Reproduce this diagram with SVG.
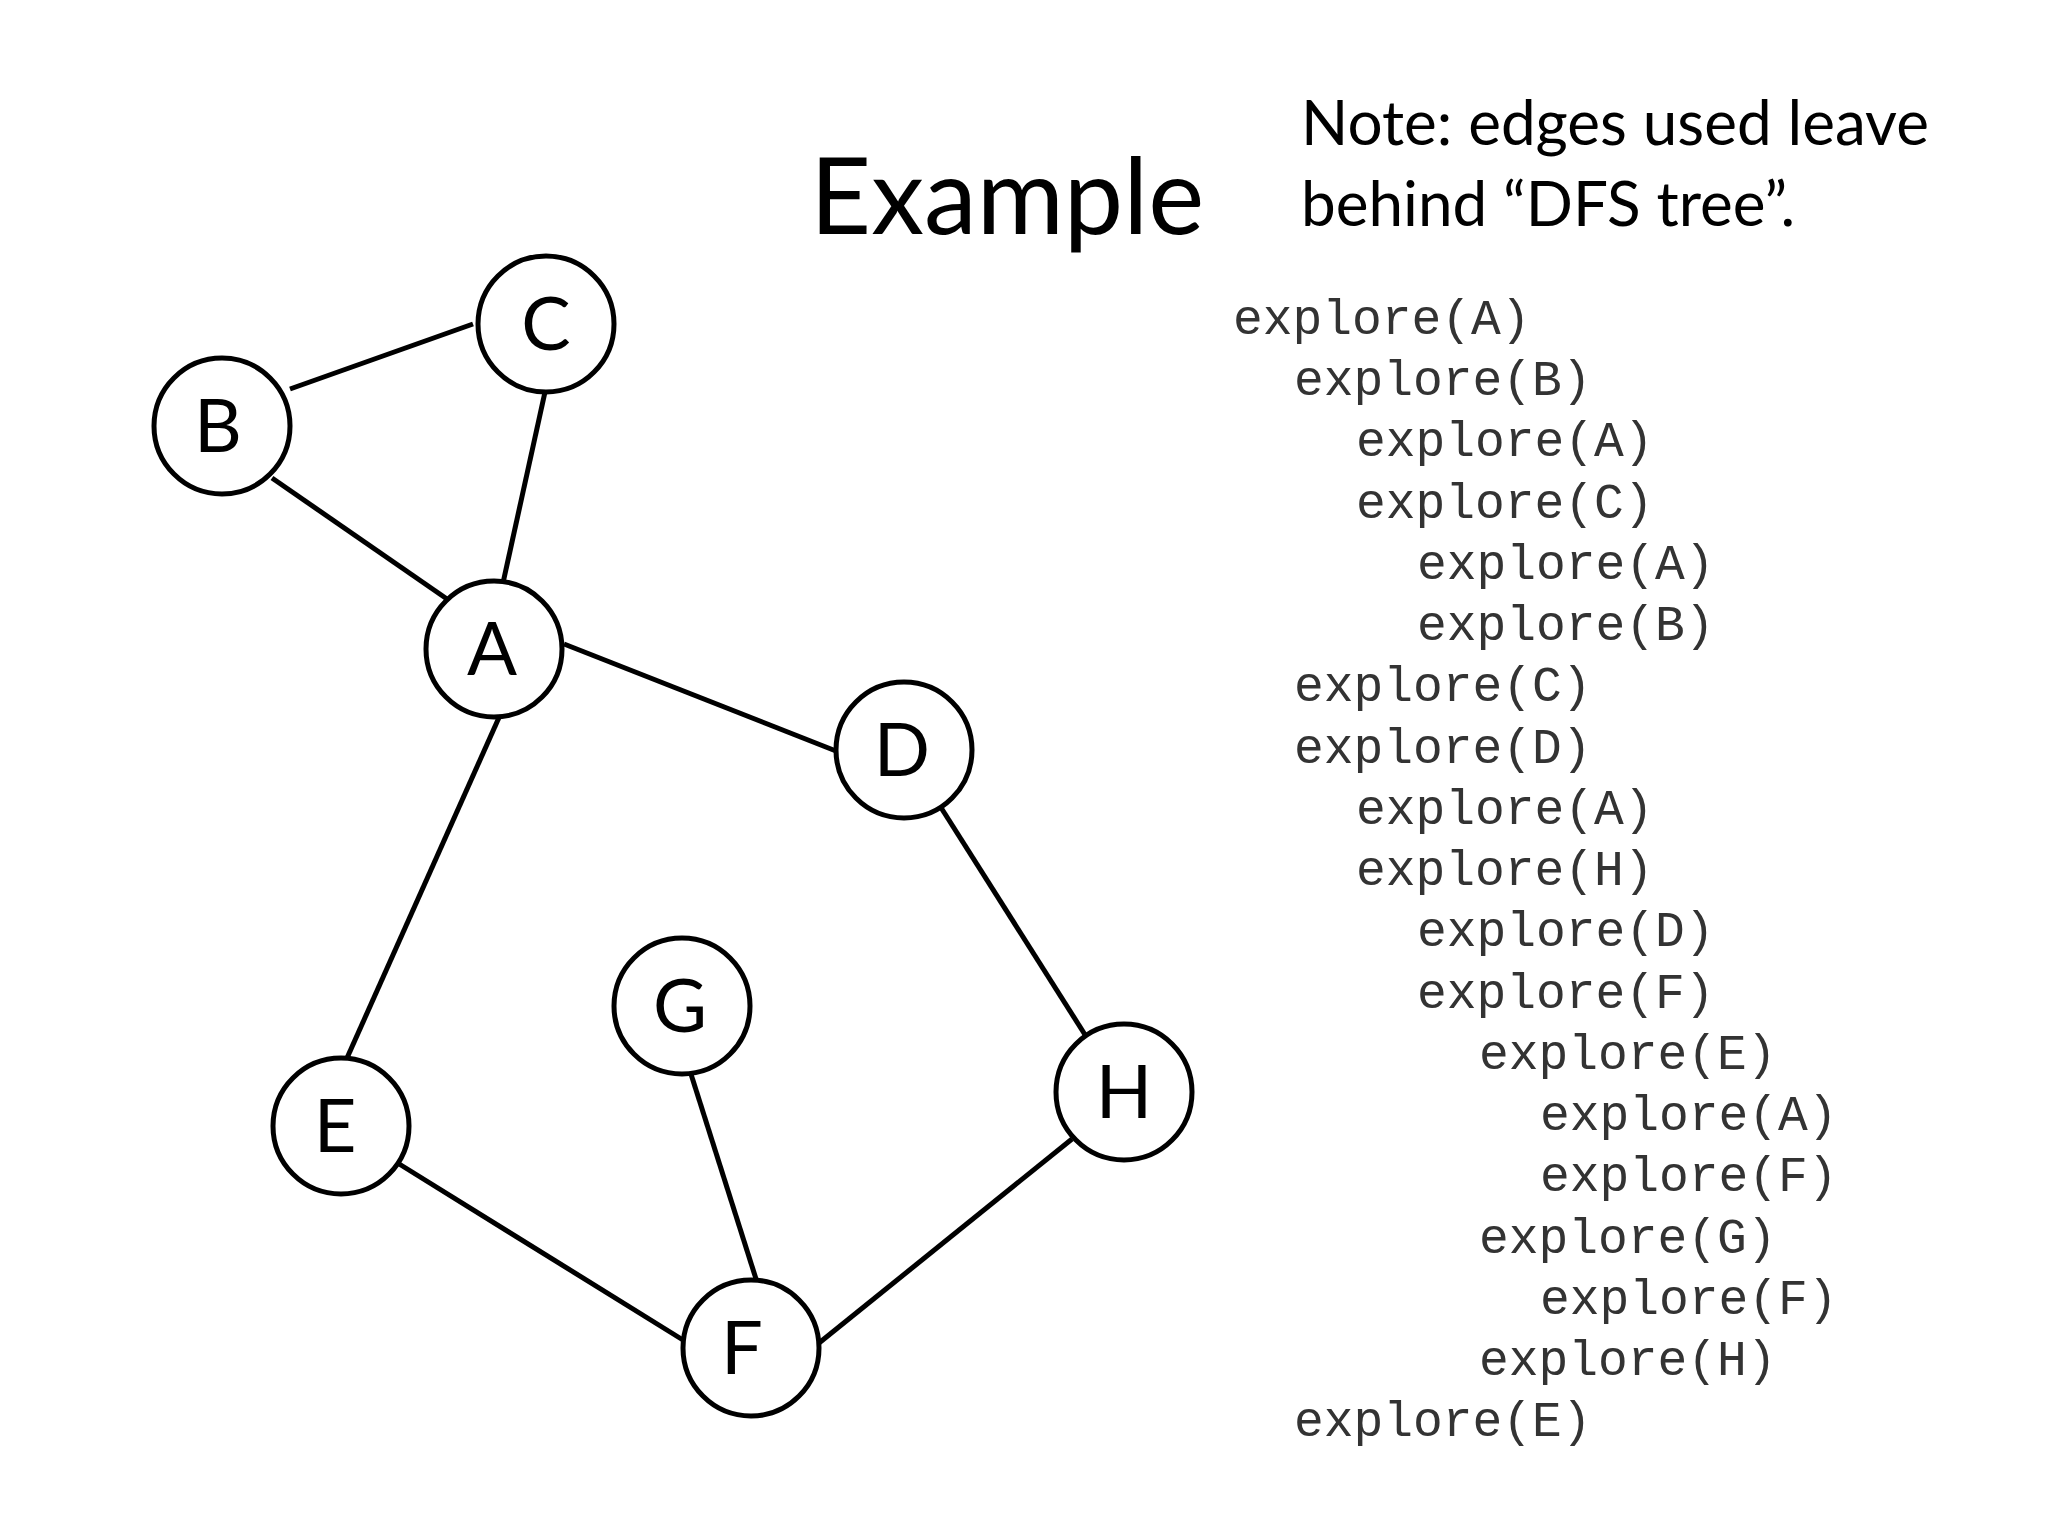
<svg xmlns="http://www.w3.org/2000/svg" width="2048" height="1536" viewBox="0 0 2048 1536">
<style>
.n circle{fill:#fff;stroke:#000;stroke-width:5}
.n text{font-family:Lato,"Open Sans",sans-serif;font-size:74px;text-anchor:middle;fill:#000}
#edges line{stroke:#000;stroke-width:5}
.code{font-family:"Liberation Mono",monospace;font-size:49.6px;fill:#333}
.t{font-family:Lato,"Open Sans",sans-serif;fill:#000}
</style>
<rect width="2048" height="1536" fill="#fff"/>
<g id="edges">
<line x1="290" y1="389" x2="473" y2="324"/>
<line x1="545" y1="392" x2="503" y2="583"/>
<line x1="272" y1="478" x2="447" y2="599"/>
<line x1="564" y1="644" x2="836" y2="751"/>
<line x1="501" y1="713" x2="347" y2="1058"/>
<line x1="940" y1="806" x2="1089" y2="1041"/>
<line x1="690" y1="1071" x2="757" y2="1282"/>
<line x1="396" y1="1162" x2="683" y2="1340"/>
<line x1="1072" y1="1139" x2="819" y2="1343"/>
</g>
<g id="C" class="n"><circle cx="546" cy="324" r="68"/><text x="546" y="350">C</text></g>
<g id="B" class="n"><circle cx="222" cy="426" r="68"/><text x="218" y="452">B</text></g>
<g id="A" class="n"><circle cx="494" cy="649" r="68"/><text x="492" y="675">A</text></g>
<g id="D" class="n"><circle cx="904" cy="750" r="68"/><text x="902" y="776">D</text></g>
<g id="G" class="n"><circle cx="682" cy="1006" r="68"/><text x="680" y="1032">G</text></g>
<g id="E" class="n"><circle cx="341" cy="1126" r="68"/><text x="335" y="1152">E</text></g>
<g id="H" class="n"><circle cx="1124" cy="1092" r="68"/><text x="1124" y="1118">H</text></g>
<g id="F" class="n"><circle cx="751" cy="1348" r="68"/><text x="742" y="1374">F</text></g>
<text class="t" x="810" y="234" font-size="106">Example</text>
<text class="t" x="1301" y="145" font-size="62">Note: edges used leave</text>
<text class="t" x="1301" y="226" font-size="62">behind “DFS tree”.</text>
<g class="code" xml:space="preserve">
<text x="1233" y="334">explore(A)</text>
<text x="1294" y="395">explore(B)</text>
<text x="1356" y="456">explore(A)</text>
<text x="1356" y="518">explore(C)</text>
<text x="1417" y="579">explore(A)</text>
<text x="1417" y="640">explore(B)</text>
<text x="1294" y="701">explore(C)</text>
<text x="1294" y="763">explore(D)</text>
<text x="1356" y="824">explore(A)</text>
<text x="1356" y="885">explore(H)</text>
<text x="1417" y="946">explore(D)</text>
<text x="1417" y="1008">explore(F)</text>
<text x="1479" y="1069">explore(E)</text>
<text x="1540" y="1130">explore(A)</text>
<text x="1540" y="1191">explore(F)</text>
<text x="1479" y="1253">explore(G)</text>
<text x="1540" y="1314">explore(F)</text>
<text x="1479" y="1375">explore(H)</text>
<text x="1294" y="1436">explore(E)</text>
</g>
</svg>
